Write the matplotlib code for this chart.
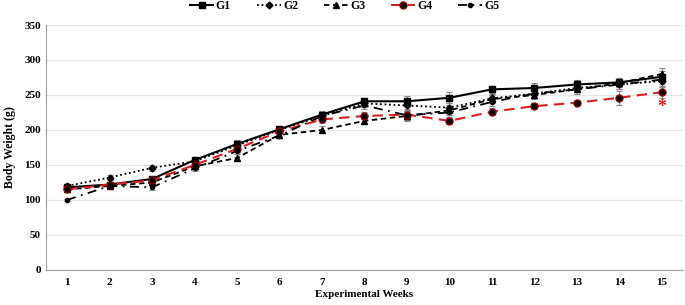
import matplotlib
matplotlib.use("Agg")
import matplotlib.pyplot as plt

weeks = list(range(1, 16))

g1 = [118, 122, 130, 157, 180, 201, 222, 241, 241, 246, 258, 260, 265, 268, 276]
g2 = [120, 132, 146, 155, 178, 200, 220, 238, 235, 232, 245, 252, 260, 265, 270]
g3 = [115, 120, 125, 148, 160, 193, 200, 213, 220, 228, 244, 250, 258, 267, 280]
g4 = [115, 122, 128, 150, 173, 198, 215, 220, 222, 213, 226, 234, 239, 246, 254]
g5 = [100, 120, 118, 145, 170, 192, 220, 235, 221, 225, 240, 252, 258, 265, 272]

g1_err = [3, 3, 4, 4, 5, 4, 5, 4, 8, 8, 5, 7, 6, 6, 8]
g2_err = [3, 3, 4, 4, 5, 4, 5, 5, 8, 7, 6, 6, 6, 6, 7]
g3_err = [3, 3, 4, 4, 5, 4, 5, 5, 7, 7, 6, 6, 6, 6, 8]
g4_err = [3, 3, 4, 4, 5, 4, 5, 5, 8, 4, 5, 4, 4, 10, 8]
g5_err = [2, 3, 4, 4, 5, 4, 5, 5, 7, 7, 6, 6, 6, 6, 7]

plt.rcParams['font.family'] = ['Liberation Serif', 'DejaVu Serif']
plt.rcParams['font.weight'] = 'bold'

fig = plt.figure(figsize=(6.85, 3.05), dpi=100)
ax = fig.add_axes([0.067, 0.115, 0.93, 0.803])

styles = [
    ('G1', g1, g1_err, dict(color='black', linestyle='-', marker='s', markersize=5, linewidth=1.5)),
    ('G2', g2, g2_err, dict(color='black', linestyle=(0, (1, 1.5)), marker='D', markersize=3.5, linewidth=1.3)),
    ('G3', g3, g3_err, dict(color='black', linestyle=(0, (3, 2)), marker='^', markersize=4.5, linewidth=1.3)),
    ('G4', g4, g4_err, dict(color='#d92020', linestyle=(0, (5, 3)), marker='o', markersize=5,
                            markerfacecolor='black', markeredgecolor='#8b0000', linewidth=1.5)),
    ('G5', g5, g5_err, dict(color='black', linestyle=(0, (5, 3, 1, 3)), marker='o', markersize=3, linewidth=1.3)),
]

handles = []
for name, vals, err, kw in styles:
    ax.errorbar(weeks, vals, yerr=err, fmt='none', ecolor='#888888', elinewidth=0.8,
                capsize=2, capthick=0.8, zorder=2)
    line, = ax.plot(weeks, vals, label=name, zorder=3, **kw)
    handles.append(line)

ax.text(15, 232, '*', color='#e02020', fontsize=13, ha='center', va='center')

ax.set_xlim(0.5, 15.5)
ax.set_ylim(0, 350)
ax.set_xticks(weeks)
ax.set_yticks(range(0, 351, 50))
ax.tick_params(axis='both', length=0, labelsize=8)
ax.tick_params(axis='x', pad=6)
ax.grid(axis='y', color='#e6e6e6', linewidth=0.9)
ax.set_axisbelow(True)
for side in ['top', 'right']:
    ax.spines[side].set_visible(False)
for side in ['left', 'bottom']:
    ax.spines[side].set_color('#a0a0a0')

ax.set_xlabel('Experimental Weeks', fontsize=8, fontweight='bold', labelpad=2)
ax.set_ylabel('Body Weight (g)', fontsize=8.5, fontweight='bold', labelpad=6)

fig.legend(handles=handles, loc='upper center', bbox_to_anchor=(0.503, 1.035), ncol=5,
           frameon=False, fontsize=8.5, handlelength=2.0, columnspacing=2.2,
           handletextpad=0.2)

fig.savefig('out.png', dpi=100)
